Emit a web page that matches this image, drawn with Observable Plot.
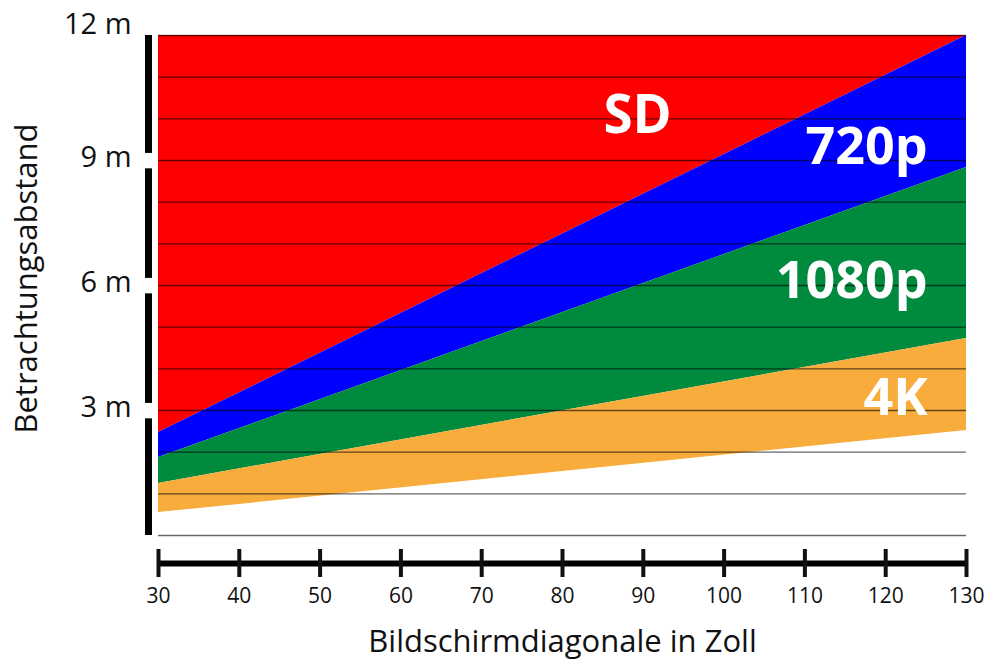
<!DOCTYPE html>
<html>
<head>
<meta charset="utf-8">
<script src="https://cdn.jsdelivr.net/npm/d3@7"></script>
<script src="https://cdn.jsdelivr.net/npm/@observablehq/plot@0.6"></script>
<style>
  html, body { margin: 0; padding: 0; background: #fff; }
  svg { display: block; }
</style>
</head>
<body>
<script>
// Screen diagonal (inches) at which boundaries are read
const diagonals = [30, 130];
// Boundary lines (viewing distance in m)
const topLimit = [12, 12];
const sdLower = [2.47, 12];      // red / blue
const p720Lower = [1.87, 8.83];  // blue / green
const p1080Lower = [1.25, 4.73]; // green / orange
const k4Lower = [0.55, 2.52];    // orange / white

const bandNames = ["SD", "720p", "1080p", "4K"];
const bandColors = ["#ff0000", "#0000ff", "#008a3e", "#f8ac3c"];

const xTicks = [30, 40, 50, 60, 70, 80, 90, 100, 110, 120, 130];
const yTicks = [3, 6, 9, 12];
const gridValues = [0, 1, 2, 3, 4, 5, 6, 7, 8, 9, 10, 11, 12];

// Band label anchors (data coordinates)
const labelNames = ["SD", "720p", "1080p", "4K"];
const labelX = [89.3, 125.2, 125.2, 125.2];
const labelY = [10.06, 9.31, 6.1, 3.29];

const bounds = [topLimit, sdLower, p720Lower, p1080Lower, k4Lower];
const bands = [];
bandNames.forEach((name, i) => {
  diagonals.forEach((d, j) => {
    bands.push({band: name, x: d, y1: bounds[i + 1][j], y2: bounds[i][j]});
  });
});

const labels = labelNames.map((t, i) => ({text: t, x: labelX[i], y: labelY[i]}));

// y-axis bar segments between ticks, with gaps around tick labels
const segTicks = [0, ...yTicks];
const segs = [];
for (let i = 0; i < segTicks.length - 1; i++) {
  const a = segTicks[i], b = segTicks[i + 1];
  segs.push({y1: a === 0 ? a : a + 0.17, y2: b === 12 ? b : b - 0.2});
}

const chart = Plot.plot({
  width: 986,
  height: 670,
  marginLeft: 158,
  marginRight: 20,
  marginTop: 35,
  marginBottom: 135,
  style: {fontFamily: "'Open Sans', sans-serif", color: "#111", background: "#fff"},
  x: {domain: [30, 130], axis: null, label: null},
  y: {domain: [0, 12], axis: null, label: null},
  color: {domain: bandNames, range: bandColors},
  marks: [
    Plot.areaY(bands, {x: "x", y1: "y1", y2: "y2", z: "band", fill: "band"}),
    Plot.ruleY(gridValues, {stroke: "#000", strokeOpacity: 0.6, strokeWidth: 1.3}),
    Plot.text(labels.filter(d => d.text === "SD"), {x: "x", y: "y", text: "text", fill: "white", fontWeight: "bold", fontSize: 53, textAnchor: "middle"}),
    Plot.text(labels.filter(d => d.text !== "SD"), {x: "x", y: "y", text: "text", fill: "white", fontWeight: "bold", fontSize: 52, textAnchor: "end"}),
    // y axis bar
    Plot.ruleX(segs, {x: () => 30, y1: "y1", y2: "y2", dx: -10, stroke: "#000", strokeWidth: 7}),
    Plot.axisY({ticks: yTicks.filter(d => d !== 12), tickSize: 0, tickPadding: 27, tickFormat: d => `${d} m`, fontSize: 29, dy: -3, label: null}),
    Plot.axisY({ticks: yTicks.filter(d => d === 12), tickSize: 0, tickPadding: 27, tickFormat: d => `${d} m`, fontSize: 29, dy: -11, label: null}),
    // x axis bar
    Plot.ruleY([0], {dy: 28, stroke: "#000", strokeWidth: 6}),
    Plot.axisX({ticks: xTicks, tickSize: 28, dy: 14, strokeWidth: 4, tickPadding: 11, fontSize: 21, tickFormat: d => `${d}`, label: null}),
    Plot.text(["Bildschirmdiagonale in Zoll"], {frameAnchor: "bottom", dy: 116, fontSize: 31, fill: "#111"}),
    Plot.text(["Betrachtungsabstand"], {frameAnchor: "left", textAnchor: "middle", dx: -131, dy: -7, rotate: -90, fontSize: 31, fill: "#111"})
  ]
});
document.body.appendChild(chart);
</script>
</body>
</html>
